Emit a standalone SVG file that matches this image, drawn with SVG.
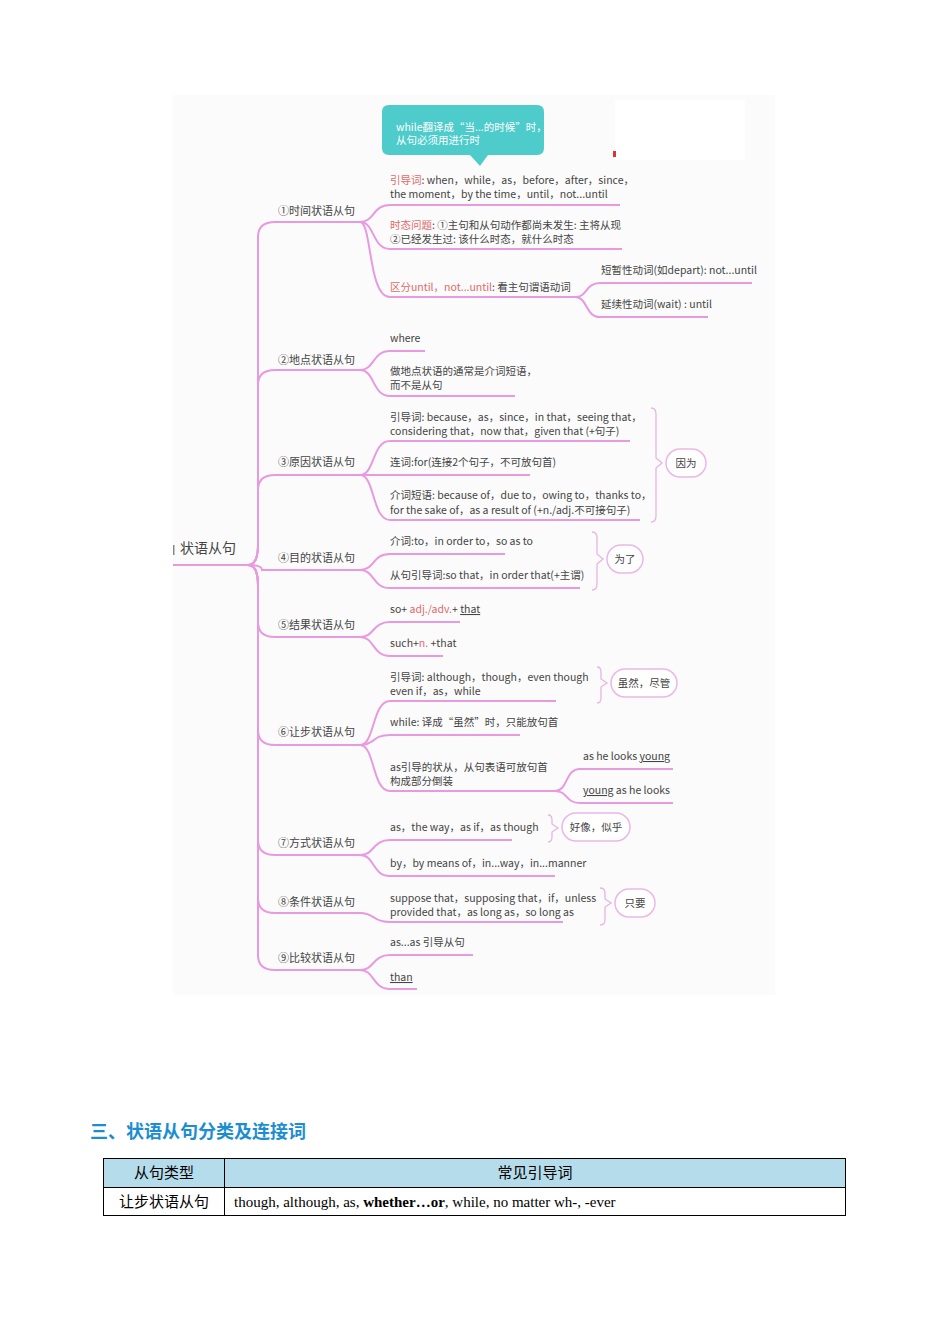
<svg xmlns="http://www.w3.org/2000/svg" width="950" height="1344" viewBox="0 0 950 1344">
<style>
.t{font-family:"Noto Sans CJK SC","Liberation Sans",sans-serif;font-size:10.5px;fill:#444}
.c{font-family:"Noto Sans CJK SC","Liberation Sans",sans-serif;font-size:11px;fill:#444}
.r{fill:#e06a6a}
.l{fill:none;stroke:#e79ae0;stroke-width:2}
.b{fill:none;stroke:#e7b5e3;stroke-width:1.3}
.p{fill:#fff;stroke:#ebb8e6;stroke-width:1.5}
.s{font-family:"Liberation Serif","Noto Sans CJK SC",serif;font-size:15px;fill:#000}
</style>
<rect width="950" height="1344" fill="#fff"/>
<rect x="173" y="95" width="602" height="900" fill="#fbfbfb"/>
<rect x="615" y="100" width="130" height="60" fill="#fff"/>
<g id="connectors">
<path class="l" d="M173,565 L248,565"/>
<path class="l" d="M248,565 Q258,565 258,545 L258,237 Q258,222 275,222 L360,222"/>
<path class="l" d="M248,565 Q258,565 258,545 L258,385 Q258,370 275,370 L360,370"/>
<path class="l" d="M248,565 Q258,565 258,545 L258,490 Q258,475 275,475 L360,475"/>
<path class="l" d="M248,565 Q262,565 262,570 L360,570"/>
<path class="l" d="M248,565 Q258,565 258,585 L258,622 Q258,637 275,637 L360,637"/>
<path class="l" d="M248,565 Q258,565 258,585 L258,730 Q258,745 275,745 L360,745"/>
<path class="l" d="M248,565 Q258,565 258,585 L258,840 Q258,855 275,855 L360,855"/>
<path class="l" d="M248,565 Q258,565 258,585 L258,898 Q258,913 275,913 L360,913"/>
<path class="l" d="M248,565 Q258,565 258,585 L258,955 Q258,970 275,970 L360,970"/>
<!-- cat1 -->
<path class="l" d="M360,222 C375,222 372,205 390,205 L620,205"/>
<path class="l" d="M360,222 C375,222 372,249 390,249 L622,249"/>
<path class="l" d="M360,222 C372,222 368,297 390,297 L575,297"/>
<path class="l" d="M575,297 C588,297 585,283 600,283 L752,283"/>
<path class="l" d="M575,297 C588,297 585,317 600,317 L708,317"/>
<!-- cat2 -->
<path class="l" d="M360,370 C375,370 372,351 390,351 L425,351"/>
<path class="l" d="M360,370 C375,370 372,396 390,396 L515,396"/>
<!-- cat3 -->
<path class="l" d="M360,475 C375,475 372,441 390,441 L630,441"/>
<path class="l" d="M360,475 L530,475"/>
<path class="l" d="M360,475 C375,475 372,520 390,520 L640,520"/>
<!-- cat4 -->
<path class="l" d="M360,570 C375,570 372,554 390,554 L505,554"/>
<path class="l" d="M360,570 C375,570 372,588 390,588 L580,588"/>
<!-- cat5 -->
<path class="l" d="M360,637 C375,637 372,622 390,622 L460,622"/>
<path class="l" d="M360,637 C375,637 372,656 390,656 L443,656"/>
<!-- cat6 -->
<path class="l" d="M360,745 C375,745 372,701 390,701 L556,701"/>
<path class="l" d="M360,745 C375,745 372,735 390,735 L520,735"/>
<path class="l" d="M360,745 C375,745 372,791 390,791 L555,791"/>
<path class="l" d="M555,791 C568,791 565,769 580,769 L673,769"/>
<path class="l" d="M555,791 C568,791 565,803 580,803 L673,803"/>
<!-- cat7 -->
<path class="l" d="M360,855 C375,855 372,840 390,840 L512,840"/>
<path class="l" d="M360,855 C375,855 372,876 390,876 L555,876"/>
<!-- cat8 -->
<path class="l" d="M360,913 C375,913 372,922 390,922 L563,922"/>
<!-- cat9 -->
<path class="l" d="M360,970 C375,970 372,955 390,955 L473,955"/>
<path class="l" d="M360,970 C375,970 372,989 390,989 L417,989"/>
<!-- braces -->
<path class="b" d="M651,408 Q656,408 656,414 L656,458 L662,463 L656,468 L656,516 Q656,522 651,522"/>
<path class="b" d="M592,532 Q597,532 597,538 L597,554 L603,559 L597,564 L597,584 Q597,590 592,590"/>
<path class="b" d="M597,667 Q601,667 601,672 L601,679 L607,683 L601,687 L601,698 Q601,703 597,703"/>
<path class="b" d="M548,815 Q552,815 552,820 L552,824 L558,828 L552,832 L552,837 Q552,842 548,842"/>
<path class="b" d="M600,888 Q605,888 605,893 L605,899 L611,903 L605,907 L605,920 Q605,925 600,925"/>
</g>
<g id="callout">
<path d="M389,105 L537,105 Q544,105 544,112 L544,148 Q544,155 537,155 L488,155 L480,166 L470,155 L389,155 Q382,155 382,148 L382,112 Q382,105 389,105 Z" fill="#4ecbcb"/>
<text class="t" x="396" y="131" style="fill:#fff">while翻译成“当...的时候”时，</text>
<text class="t" x="396" y="144" style="fill:#fff">从句必须用进行时</text>
<rect x="613" y="151" width="3" height="6" fill="#d33"/>
</g>
<g id="root"><text x="180" y="553" style="font-family:'Noto Sans CJK SC',sans-serif;font-size:14px;fill:#444">状语从句</text><rect x="173" y="545" width="1.5" height="10" fill="#888"/></g>
<g id="categories">
<text class="c" x="278" y="215">①时间状语从句</text>
<text class="c" x="278" y="364">②地点状语从句</text>
<text class="c" x="278" y="466">③原因状语从句</text>
<text class="c" x="278" y="562">④目的状语从句</text>
<text class="c" x="278" y="629">⑤结果状语从句</text>
<text class="c" x="278" y="736">⑥让步状语从句</text>
<text class="c" x="278" y="847">⑦方式状语从句</text>
<text class="c" x="278" y="906">⑧条件状语从句</text>
<text class="c" x="278" y="962">⑨比较状语从句</text>
</g>
<g id="leaves">
<text class="t" x="390" y="184"><tspan class="r">引导词</tspan>: when，while，as，before，after，since，</text>
<text class="t" x="390" y="198">the moment，by the time，until，not...until</text>
<text class="t" x="390" y="229"><tspan class="r">时态问题</tspan>: ①主句和从句动作都尚未发生: 主将从现</text>
<text class="t" x="390" y="243">②已经发生过: 该什么时态，就什么时态</text>
<text class="t" x="390" y="291"><tspan class="r">区分until，not...until</tspan>: 看主句谓语动词</text>
<text class="t" x="601" y="274">短暂性动词(如depart): not...until</text>
<text class="t" x="601" y="308">延续性动词(wait) : until</text>
<text class="t" x="390" y="342">where</text>
<text class="t" x="390" y="375">做地点状语的通常是介词短语，</text>
<text class="t" x="390" y="389">而不是从句</text>
<text class="t" x="390" y="421">引导词: because，as，since，in that，seeing that，</text>
<text class="t" x="390" y="435">considering that，now that，given that (+句子)</text>
<text class="t" x="390" y="466">连词:for(连接2个句子，不可放句首)</text>
<text class="t" x="390" y="499">介词短语: because of，due to，owing to，thanks to，</text>
<text class="t" x="390" y="514">for the sake of，as a result of (+n./adj.不可接句子)</text>
<text class="t" x="390" y="545">介词:to，in order to，so as to</text>
<text class="t" x="390" y="579">从句引导词:so that，in order that(+主谓)</text>
<text class="t" x="390" y="613">so+ <tspan class="r">adj./adv.</tspan>+ <tspan text-decoration="underline">that</tspan></text>
<text class="t" x="390" y="647">such+<tspan class="r">n.</tspan> +that</text>
<text class="t" x="390" y="681">引导词: although，though，even though</text>
<text class="t" x="390" y="695">even if，as，while</text>
<text class="t" x="390" y="726">while: 译成“虽然”时，只能放句首</text>
<text class="t" x="390" y="771">as引导的状从，从句表语可放句首</text>
<text class="t" x="390" y="785">构成部分倒装</text>
<text class="t" x="583" y="760">as he looks <tspan text-decoration="underline">young</tspan></text>
<text class="t" x="583" y="794"><tspan text-decoration="underline">young</tspan> as he looks</text>
<text class="t" x="390" y="831">as，the way，as if，as though</text>
<text class="t" x="390" y="867">by，by means of，in...way，in...manner</text>
<text class="t" x="390" y="902">suppose that，supposing that，if，unless</text>
<text class="t" x="390" y="916">provided that，as long as，so long as</text>
<text class="t" x="390" y="946">as...as 引导从句</text>
<text class="t" x="390" y="981" text-decoration="underline">than</text>
</g>
<g id="pills">
<rect class="p" x="666" y="449" width="40" height="28" rx="14"/><text class="t" x="686" y="467" text-anchor="middle">因为</text>
<rect class="p" x="607" y="545" width="36" height="28" rx="14"/><text class="t" x="625" y="563" text-anchor="middle">为了</text>
<rect class="p" x="611" y="669" width="66" height="28" rx="14"/><text class="t" x="644" y="687" text-anchor="middle">虽然，尽管</text>
<rect class="p" x="562" y="813" width="68" height="28" rx="14"/><text class="t" x="596" y="831" text-anchor="middle">好像，似乎</text>
<rect class="p" x="615" y="889" width="40" height="28" rx="14"/><text class="t" x="635" y="907" text-anchor="middle">只要</text>
</g>
<g id="heading"><text x="90" y="1138" style="font-family:'Noto Sans CJK SC',sans-serif;font-size:18px;font-weight:bold;fill:#1b8ed1">三、状语从句分类及连接词</text></g>
<g id="table">
<rect x="103.5" y="1158.5" width="742" height="29" fill="#b4dceb"/>
<rect x="103.5" y="1158.5" width="742" height="57" fill="none" stroke="#000" stroke-width="1"/>
<line x1="103.5" y1="1187.5" x2="845.5" y2="1187.5" stroke="#000"/>
<line x1="224.5" y1="1158.5" x2="224.5" y2="1215.5" stroke="#000"/>
<text class="s" x="164" y="1178" text-anchor="middle">从句类型</text>
<text class="s" x="535" y="1178" text-anchor="middle">常见引导词</text>
<text class="s" x="164" y="1207" text-anchor="middle">让步状语从句</text>
<text class="s" x="234" y="1207">though, although, as, <tspan font-weight="bold">whether…or</tspan>, while, no matter wh-, -ever</text>
</g>
</svg>
